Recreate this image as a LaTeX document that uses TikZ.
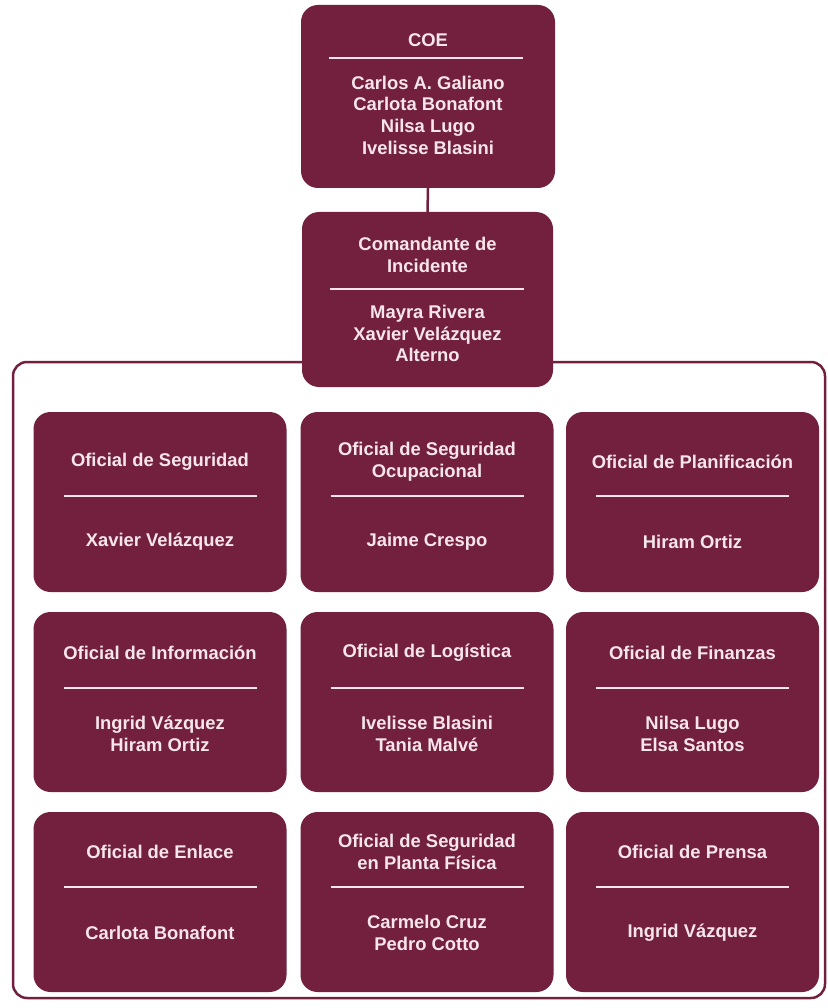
\documentclass[tikz,border=0pt]{standalone}
\usepackage{fontspec}
\setmainfont{Liberation Sans}
\definecolor{maroon}{HTML}{72203E}
\definecolor{pinkwhite}{HTML}{F6E6EB}
\begin{document}
\begin{tikzpicture}[x=1pt,y=-1pt,
  card/.style={fill=maroon, draw=none, rounded corners=17pt, inner sep=0pt, minimum width=253pt, minimum height=180pt},
  txt/.style={text=pinkwhite, font=\bfseries\fontsize{18.4}{22}\selectfont, align=center, inner sep=0pt},
  sep/.style={draw=pinkwhite, line width=2pt},
  link/.style={draw=maroon, line width=2.5pt},
  frame/.style={draw=maroon, line width=2.5pt, rounded corners=14pt, inner sep=0pt, minimum width=812pt, minimum height=636pt}
]
\useasboundingbox (0,0) rectangle (827,1008);
\fill[white] (0,0) rectangle (827,1008);

% outer frame
\node[frame] (grp) at (419,680) {};

% top boxes
\node[card, minimum width=254pt, minimum height=183pt] (coe) at (428,96.5) {};
\node[card, minimum width=251pt, minimum height=175pt] (ci) at (427.5,299.5) {};
\draw[link] (coe.south) -- (ci.north);

\node[txt] (coeT) at (428,40) {COE};
\draw[sep] (329,58) -- (523,58);
\node[txt, font=\bfseries\fontsize{18.4}{21.7}\selectfont] (coeN) at (428,115) {Carlos A. Galiano\\Carlota Bonafont\\Nilsa Lugo\\Ivelisse Blasini};

\node[txt] (ciT) at (427.5,254.5) {Comandante de\\Incidente};
\draw[sep] (330,289) -- (524,289);
\node[txt, font=\bfseries\fontsize{18.4}{21.5}\selectfont] (ciN) at (427.5,333.5) {Mayra Rivera\\Xavier Velázquez\\Alterno};

% grid boxes
\node[card] (b11) at (160,502) {};
\node[card] (b12) at (427,502) {};
\node[card] (b13) at (692.5,502) {};
\node[card] (b21) at (160,702) {};
\node[card] (b22) at (427,702) {};
\node[card] (b23) at (692.5,702) {};
\node[card] (b31) at (160,902) {};
\node[card] (b32) at (427,902) {};
\node[card] (b33) at (692.5,902) {};

\foreach \x in {160,427,692.5}
  \foreach \y in {496,688,887}
    \draw[sep] (\x-96.5,\y) -- (\x+96.5,\y);

% row 1
\node[txt] (t11) at (160,462) {Oficial de Seguridad};
\node[txt] (n11) at (160,542) {Xavier Velázquez};
\node[txt] (t12) at (427,462) {Oficial de Seguridad\\Ocupacional};
\node[txt] (n12) at (427,542) {Jaime Crespo};
\node[txt] (t13) at (692.5,462) {Oficial de Planificación};
\node[txt] (n13) at (692.5,542) {Hiram Ortiz};

% row 2
\node[txt] (t21) at (160,653) {Oficial de Información};
\node[txt] (n21) at (160,734) {Ingrid Vázquez\\Hiram Ortiz};
\node[txt] (t22) at (427,653) {Oficial de Logística};
\node[txt] (n22) at (427,734) {Ivelisse Blasini\\Tania Malvé};
\node[txt] (t23) at (692.5,653) {Oficial de Finanzas};
\node[txt] (n23) at (692.5,734) {Nilsa Lugo\\Elsa Santos};

% row 3
\node[txt] (t31) at (160,852) {Oficial de Enlace};
\node[txt] (n31) at (160,933) {Carlota Bonafont};
\node[txt] (t32) at (427,852) {Oficial de Seguridad\\en Planta Física};
\node[txt] (n32) at (427,932.5) {Carmelo Cruz\\Pedro Cotto};
\node[txt] (t33) at (692.5,852) {Oficial de Prensa};
\node[txt] (n33) at (692.5,933) {Ingrid Vázquez};
\end{tikzpicture}
\end{document}
